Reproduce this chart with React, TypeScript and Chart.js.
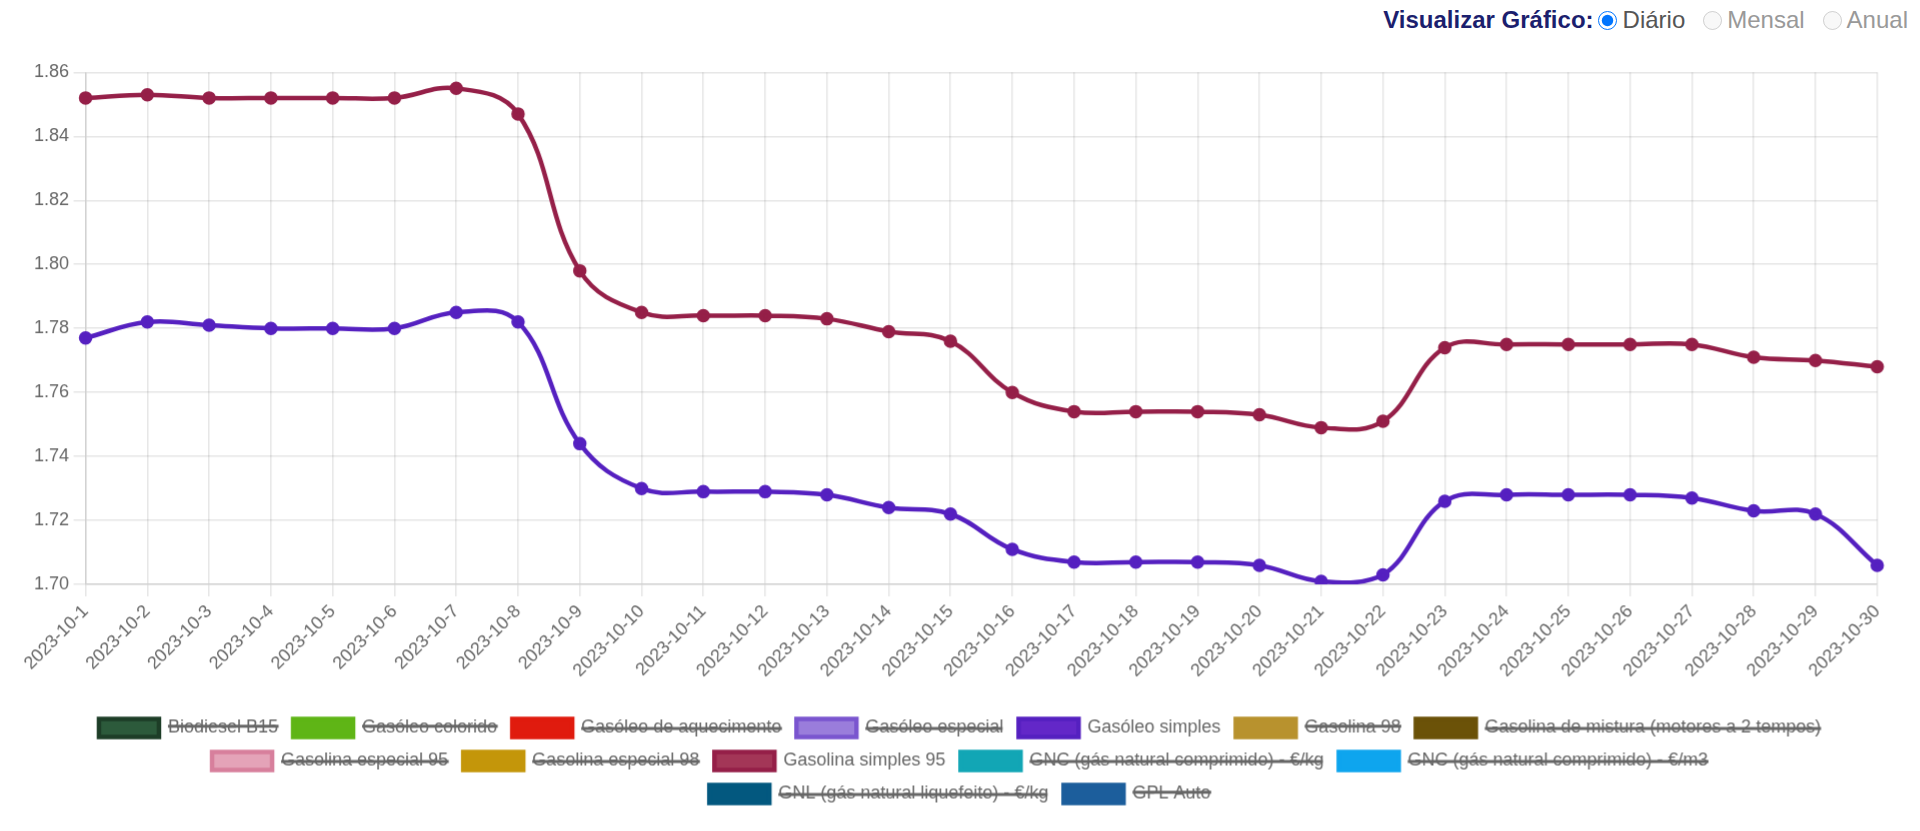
import React, { useEffect, useRef } from "react";
import { Chart, registerables } from "chart.js";

Chart.register(...registerables);

const dateLabels = [
  "2023-10-1", "2023-10-2", "2023-10-3", "2023-10-4", "2023-10-5", "2023-10-6",
  "2023-10-7", "2023-10-8", "2023-10-9", "2023-10-10", "2023-10-11", "2023-10-12",
  "2023-10-13", "2023-10-14", "2023-10-15", "2023-10-16", "2023-10-17", "2023-10-18",
  "2023-10-19", "2023-10-20", "2023-10-21", "2023-10-22", "2023-10-23", "2023-10-24",
  "2023-10-25", "2023-10-26", "2023-10-27", "2023-10-28", "2023-10-29", "2023-10-30",
];

const gasoleoSimples = [
  1.777, 1.782, 1.781, 1.780, 1.780, 1.780, 1.785, 1.782, 1.744, 1.730,
  1.729, 1.729, 1.728, 1.724, 1.722, 1.711, 1.707, 1.707, 1.707, 1.706,
  1.701, 1.703, 1.726, 1.728, 1.728, 1.728, 1.727, 1.723, 1.722, 1.706,
];

const gasolinaSimples95 = [
  1.852, 1.853, 1.852, 1.852, 1.852, 1.852, 1.855, 1.847, 1.798, 1.785,
  1.784, 1.784, 1.783, 1.779, 1.776, 1.760, 1.754, 1.754, 1.754, 1.753,
  1.749, 1.751, 1.774, 1.775, 1.775, 1.775, 1.775, 1.771, 1.770, 1.768,
];

const seriesNames = [
  "Biodiesel B15",
  "Gasóleo colorido",
  "Gasóleo de aquecimento",
  "Gasóleo especial",
  "Gasóleo simples",
  "Gasolina 98",
  "Gasolina de mistura (motores a 2 tempos)",
  "Gasolina especial 95",
  "Gasolina especial 98",
  "Gasolina simples 95",
  "GNC (gás natural comprimido) - €/kg",
  "GNC (gás natural comprimido) - €/m3",
  "GNL (gás natural liquefeito) - €/kg",
  "GPL Auto",
];

const seriesFill = [
  "#2c5a3b", "#5fb516", "#e01b0e", "#9a7ddb", "#6327c8", "#b8922e", "#6b5208",
  "#e4a3b8", "#c4960a", "#a33657", "#12a6b5", "#0ea5ee", "#03587f", "#1c5e9c",
];

const seriesBorder = [
  "#1d3d27", "#5fb516", "#e01b0e", "#7a55cf", "#5520c0", "#b8922e", "#6b5208",
  "#d77f9c", "#c4960a", "#951f48", "#12a6b5", "#0ea5ee", "#03587f", "#1c5e9c",
];

const seriesValues: Record<string, number[]> = {
  "Gasóleo simples": gasoleoSimples,
  "Gasolina simples 95": gasolinaSimples95,
};

const yMin = 1.7;
const yMax = 1.86;
const yStep = 0.02;

const SCALE = 1.5;
const CHART_W = 1249;
const CHART_H = 507;

export default function App() {
  const canvasRef = useRef<HTMLCanvasElement | null>(null);

  useEffect(() => {
    if (!canvasRef.current) return;
    const datasets = seriesNames.map((name, i) => {
      const values = seriesValues[name];
      return {
        label: name,
        data: values ? values : [],
        hidden: !values,
        backgroundColor: seriesFill[i],
        borderColor: seriesBorder[i],
        pointBackgroundColor: seriesBorder[i],
        pointBorderColor: seriesBorder[i],
        borderWidth: 3,
        pointRadius: 3,
        tension: 0.4,
        fill: false,
      };
    });
    const chart = new Chart(canvasRef.current, {
      type: "line",
      data: { labels: dateLabels, datasets },
      options: {
        animation: false,
        responsive: true,
        maintainAspectRatio: false,
        devicePixelRatio: SCALE,
        font: { family: "'Liberation Sans', Arial, sans-serif", size: 12 } as any,
        plugins: {
          legend: {
            position: "bottom",
            labels: {
              color: "#666",
              font: { family: "'Liberation Sans', Arial, sans-serif", size: 12 },
            },
          },
          tooltip: { enabled: false },
        },
        scales: {
          x: {
            ticks: {
              color: "#666",
              minRotation: 45,
              maxRotation: 45,
              autoSkip: false,
              font: { family: "'Liberation Sans', Arial, sans-serif", size: 12 },
            },
            afterFit: (scale: any) => {
              scale.height += 12;
            },
          },
          y: {
            min: yMin,
            max: yMax,
            ticks: {
              stepSize: yStep,
              color: "#666",
              font: { family: "'Liberation Sans', Arial, sans-serif", size: 12 },
            },
          },
        },
      } as any,
    });
    return () => chart.destroy();
  }, []);

  const radioStyle: React.CSSProperties = {
    width: 19,
    height: 19,
    margin: 0,
  };

  return (
    <div style={{ position: "relative", height: 815, fontFamily: "'Liberation Sans', Arial, sans-serif" }}>
      <div
        style={{
          position: "absolute",
          top: 0,
          right: 4,
          height: 24,
          display: "flex",
          alignItems: "center",
          fontSize: 24,
          whiteSpace: "nowrap",
        }}
      >
        <span style={{ fontWeight: "bold", color: "#1c1f6e" }}>Visualizar Gráfico:</span>
        <input type="radio" name="vis" defaultChecked style={{ ...radioStyle, marginLeft: 4, marginRight: 6 }} />
        <span style={{ color: "#555" }}>Diário</span>
        <input type="radio" name="vis" disabled style={{ ...radioStyle, marginLeft: 18, marginRight: 5 }} />
        <span style={{ color: "#999" }}>Mensal</span>
        <input type="radio" name="vis" disabled style={{ ...radioStyle, marginLeft: 18, marginRight: 5 }} />
        <span style={{ color: "#999" }}>Anual</span>
      </div>
      <div
        style={{
          position: "absolute",
          left: 15,
          top: 49,
          width: CHART_W * SCALE,
          height: CHART_H * SCALE,
        }}
      >
        <div
          style={{
            position: "relative",
            width: CHART_W,
            height: CHART_H,
            transform: `scale(${SCALE})`,
            transformOrigin: "0 0",
          }}
        >
          <canvas ref={canvasRef} />
        </div>
      </div>
    </div>
  );
}
